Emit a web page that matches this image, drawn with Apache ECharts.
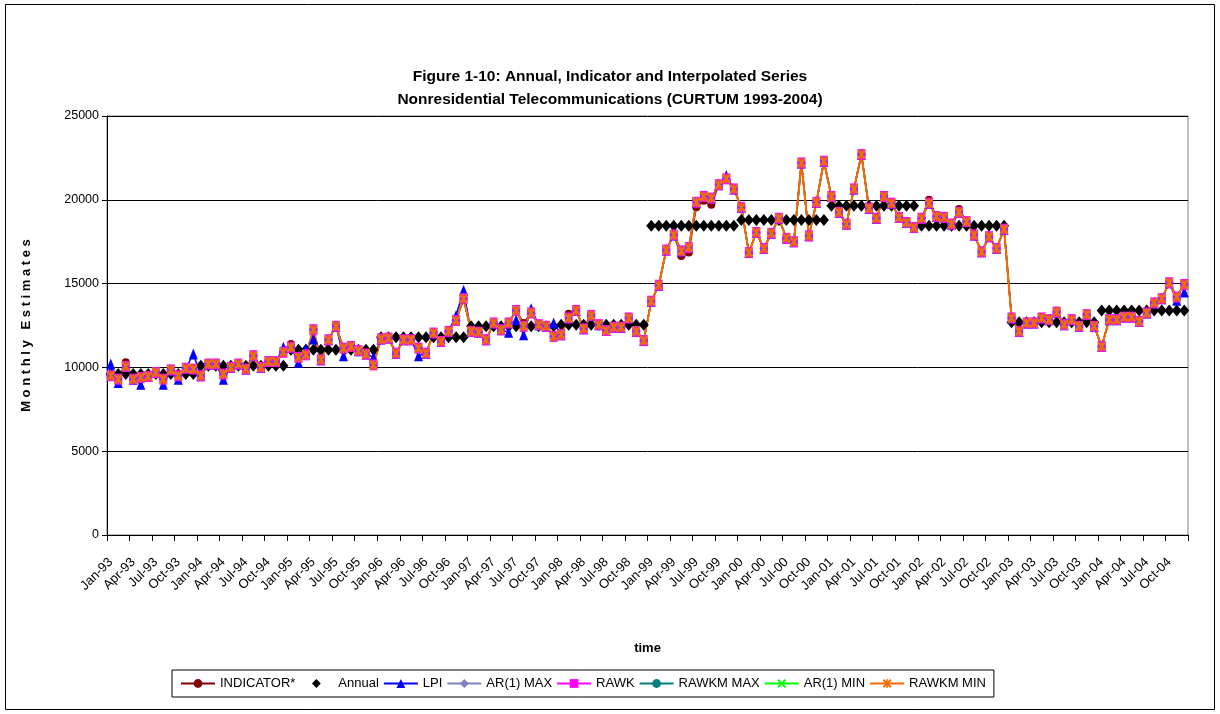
<!DOCTYPE html>
<html>
<head>
<meta charset="utf-8">
<script src="https://cdn.jsdelivr.net/npm/echarts@6.0.0/dist/echarts.min.js"></script>
<style>
  html, body { margin: 0; padding: 0; background: #fff; }
  #chart { width: 1220px; height: 714px; }
</style>
</head>
<body>
<div id="chart"></div>
<script>
// tick label pieces
var monthNames = ['Jan', 'Feb', 'Mar', 'Apr', 'May', 'Jun', 'Jul', 'Aug', 'Sep', 'Oct', 'Nov', 'Dec']
var years = ['93', '94', '95', '96', '97', '98', '99', '00', '01', '02', '03', '04']

// annual level, one per year (drawn on every month of that year)
var annual = [9600, 10100, 11050, 11800, 12450, 12550, 18450, 18800, 19650, 18450, 12700, 13400]

// interpolated monthly series (RAWK, RAWKM MAX/MIN, AR(1) MAX/MIN sit on top of each other)
var rawk = [
  9500, 9300, 10050, 9300, 9400, 9450, 9700, 9300, 9850, 9500, 9950, 9900,
  9500, 10200, 10200, 9600, 10000, 10200, 9900, 10700, 10000, 10350, 10350, 10900,
  11200, 10600, 10750, 12250, 10450, 11650, 12450, 11150, 11250, 11000, 10800, 10150,
  11700, 11750, 10850, 11650, 11650, 11150, 10850, 12050, 11550, 12150, 12800, 14100,
  12150, 12100, 11650, 12650, 12250, 12650, 13400, 12450, 13250, 12550, 12450, 11850,
  11950, 12950, 13400, 12300, 13100, 12550, 12200, 12400, 12400, 12950, 12150, 11600,
  13950, 14900, 17000, 17900, 16950, 17150, 19850, 20200, 20100, 20900, 21250, 20650,
  19550, 16850, 18050, 17100, 18000, 18900, 17700, 17500, 22200, 17850, 19850, 22300,
  20200, 19250, 18550, 20650, 22700, 19500, 18900, 20200, 19800, 18950, 18650, 18350,
  18900, 19800, 19000, 18950, 18550, 19250, 18700, 17900, 16900, 17800, 17100, 18250,
  12950, 12150, 12650, 12650, 12950, 12850, 13300, 12550, 12850, 12450, 13150, 12450,
  11250, 12850, 12850, 13000, 13000, 12750, 13250, 13850, 14100, 15050, 14200, 14950
]

var lpi = [
  10200, 9100, 10050, 9300, 9000, 9450, 9700, 9000, 9850, 9300, 9950, 10800,
  9500, 10200, 10200, 9300, 10000, 10200, 9900, 10700, 10000, 10350, 10350, 11200,
  11200, 10300, 11100, 11700, 10450, 11650, 12450, 10700, 11250, 11000, 10800, 10600,
  11700, 11750, 10850, 11650, 11650, 10700, 10850, 12050, 11550, 12150, 13100, 14600,
  12150, 12100, 11650, 12650, 12250, 12100, 12850, 11950, 13500, 12550, 12450, 12650,
  11950, 12950, 13400, 12300, 13100, 12550, 12200, 12400, 12400, 12950, 12150, 11600,
  13950, 14900, 17000, 17900, 16950, 17150, 19850, 20200, 20100, 20900, 21450, 20650,
  19550, 16850, 18050, 17100, 18000, 18900, 17700, 17500, 22200, 17850, 19850, 22300,
  20200, 19250, 18550, 20650, 22700, 19500, 18900, 20200, 19800, 18950, 18650, 18350,
  18900, 19800, 19000, 18950, 18550, 19250, 18700, 17900, 16900, 17800, 17100, 18250,
  12950, 12150, 12650, 12650, 12950, 12850, 13300, 12550, 12850, 12450, 13150, 12450,
  11250, 12850, 12850, 13000, 13000, 12750, 13250, 13850, 14100, 15050, 14000, 14500
]

var indicator = [
  9500, 9300, 10300, 9300, 9400, 9450, 9700, 9300, 9850, 9500, 9950, 9900,
  9500, 10200, 10200, 9600, 10000, 10200, 9900, 10700, 10000, 10350, 10350, 10900,
  11400, 10600, 10750, 12250, 10450, 11650, 12450, 11150, 11250, 11000, 10800, 10150,
  11700, 11750, 10850, 11650, 11650, 11150, 10850, 12050, 11550, 12150, 12800, 14100,
  12150, 12100, 11650, 12650, 12250, 12650, 13400, 12650, 13250, 12550, 12450, 11850,
  11950, 13200, 13400, 12300, 13100, 12550, 12200, 12400, 12400, 12950, 12150, 11600,
  13950, 14900, 17000, 17900, 16650, 16850, 19550, 19950, 19700, 20900, 21250, 20650,
  19550, 16850, 18050, 17100, 18000, 18900, 17700, 17500, 22200, 17850, 19850, 22300,
  20200, 19250, 18550, 20650, 22700, 19500, 18900, 20200, 19800, 18950, 18650, 18350,
  18900, 20000, 19000, 18950, 18550, 19450, 18700, 17900, 16900, 17800, 17100, 18250,
  12950, 12150, 12650, 12650, 12950, 12850, 13300, 12550, 12850, 12450, 13150, 12450,
  11250, 12850, 12850, 13000, 13000, 12750, 13250, 13850, 14100, 15050, 14200, 14950
]

var yTicks = [0, 5000, 10000, 15000, 20000, 25000]

var categories = []
var annualMonthly = []
for (var y = 0; y < years.length; y++) {
  for (var m = 0; m < 12; m++) {
    categories.push(monthNames[m] + '-' + years[y])
    annualMonthly.push(annual[y])
  }
}

var crossPath = 'path://M0,1.5 L1.5,0 L5,3.5 L8.5,0 L10,1.5 L6.5,5 L10,8.5 L8.5,10 L5,6.5 L1.5,10 L0,8.5 L3.5,5 Z'
var starPath = crossPath + ' M4.2,0 L5.8,0 L5.8,10 L4.2,10 Z'
var font = 'Liberation Sans, Arial, sans-serif'

function lineSeries(name, data, color, symbol, size, width) {
  return {
    name: name,
    type: 'line',
    data: data,
    symbol: symbol,
    symbolSize: size,
    showAllSymbol: true,
    lineStyle: { color: color, width: width || 1.5 },
    itemStyle: { color: color, borderWidth: 0, opacity: 1 },
    emphasis: { disabled: true }
  }
}

var chart = echarts.init(document.getElementById('chart'))
var option = {
  animation: false,
  backgroundColor: '#fff',
  textStyle: { fontFamily: font, color: '#000' },
  title: {
    text: 'Figure 1-10: Annual, Indicator and Interpolated Series\nNonresidential Telecommunications (CURTUM 1993-2004)',
    left: 'center',
    top: 60,
    textStyle: { fontSize: 15.5, fontWeight: 'bold', lineHeight: 23, color: '#000', fontFamily: font }
  },
  graphic: [{
    type: 'rect',
    shape: { x: 5.5, y: 4.5, width: 1209, height: 705 },
    style: { fill: 'none', stroke: '#000', lineWidth: 1 },
    silent: true
  }],
  legend: {
    left: 172,
    top: 670,
    padding: [7, 8, 7, 8],
    itemGap: 4,
    itemWidth: 34,
    itemHeight: 11,
    borderColor: '#000',
    borderWidth: 1,
    borderRadius: 0,
    textStyle: { fontSize: 13, color: '#000', fontFamily: font },
    data: ['INDICATOR*', 'Annual', 'LPI', 'AR(1) MAX', 'RAWK', 'RAWKM MAX', 'AR(1) MIN', 'RAWKM MIN']
  },
  grid: { left: 107, right: 32, top: 116, bottom: 179, show: true, borderColor: '#808080', borderWidth: 1, containLabel: false, outerBoundsMode: 'none' },
  xAxis: {
    type: 'category',
    data: categories,
    boundaryGap: true,
    name: 'time',
    nameLocation: 'middle',
    nameGap: 107,
    nameTextStyle: { fontSize: 13, fontWeight: 'bold', color: '#000' },
    axisLine: { lineStyle: { color: '#000', width: 1 } },
    axisTick: { show: true, interval: 2, length: 6, lineStyle: { color: '#000' } },
    axisLabel: { interval: 2, rotate: 45, margin: 25, fontSize: 13, color: '#000', hideOverlap: false },
    splitLine: { show: false }
  },
  yAxis: {
    type: 'value',
    min: yTicks[0],
    max: yTicks[yTicks.length - 1],
    interval: 5000,
    name: 'M o n t h l y   E s t i m a t e s',
    nameLocation: 'middle',
    nameGap: 74,
    nameTextStyle: { fontSize: 13, fontWeight: 'bold', color: '#000' },
    axisLine: { show: true, lineStyle: { color: '#000', width: 1 } },
    axisTick: { show: true, length: 5, lineStyle: { color: '#000' } },
    axisLabel: { fontSize: 12.5, color: '#000', margin: 8, formatter: function (v) { return String(v) } },
    splitLine: { show: true, lineStyle: { color: '#000', width: 1 } }
  },
  series: [
    lineSeries('INDICATOR*', indicator, '#800000', 'circle', 8),
    {
      name: 'Annual',
      type: 'line',
      data: annualMonthly,
      symbol: 'diamond',
      symbolSize: [10, 12],
      showAllSymbol: true,
      lineStyle: { width: 0, opacity: 0 },
      itemStyle: { color: '#000', opacity: 1 },
      emphasis: { disabled: true }
    },
    lineSeries('LPI', lpi, '#0000FF', 'triangle', [9, 11]),
    lineSeries('AR(1) MAX', rawk, '#8080C0', 'diamond', [8, 11]),
    lineSeries('RAWK', rawk, '#FF00FF', 'rect', [8, 11]),
    lineSeries('RAWKM MAX', rawk, '#008080', 'circle', 5),
    lineSeries('AR(1) MIN', rawk, '#00FF00', crossPath, [8, 10]),
    lineSeries('RAWKM MIN', rawk, '#FF6600', starPath, [8, 10], 2)
  ]
}
chart.setOption(option)
</script>
</body>
</html>
